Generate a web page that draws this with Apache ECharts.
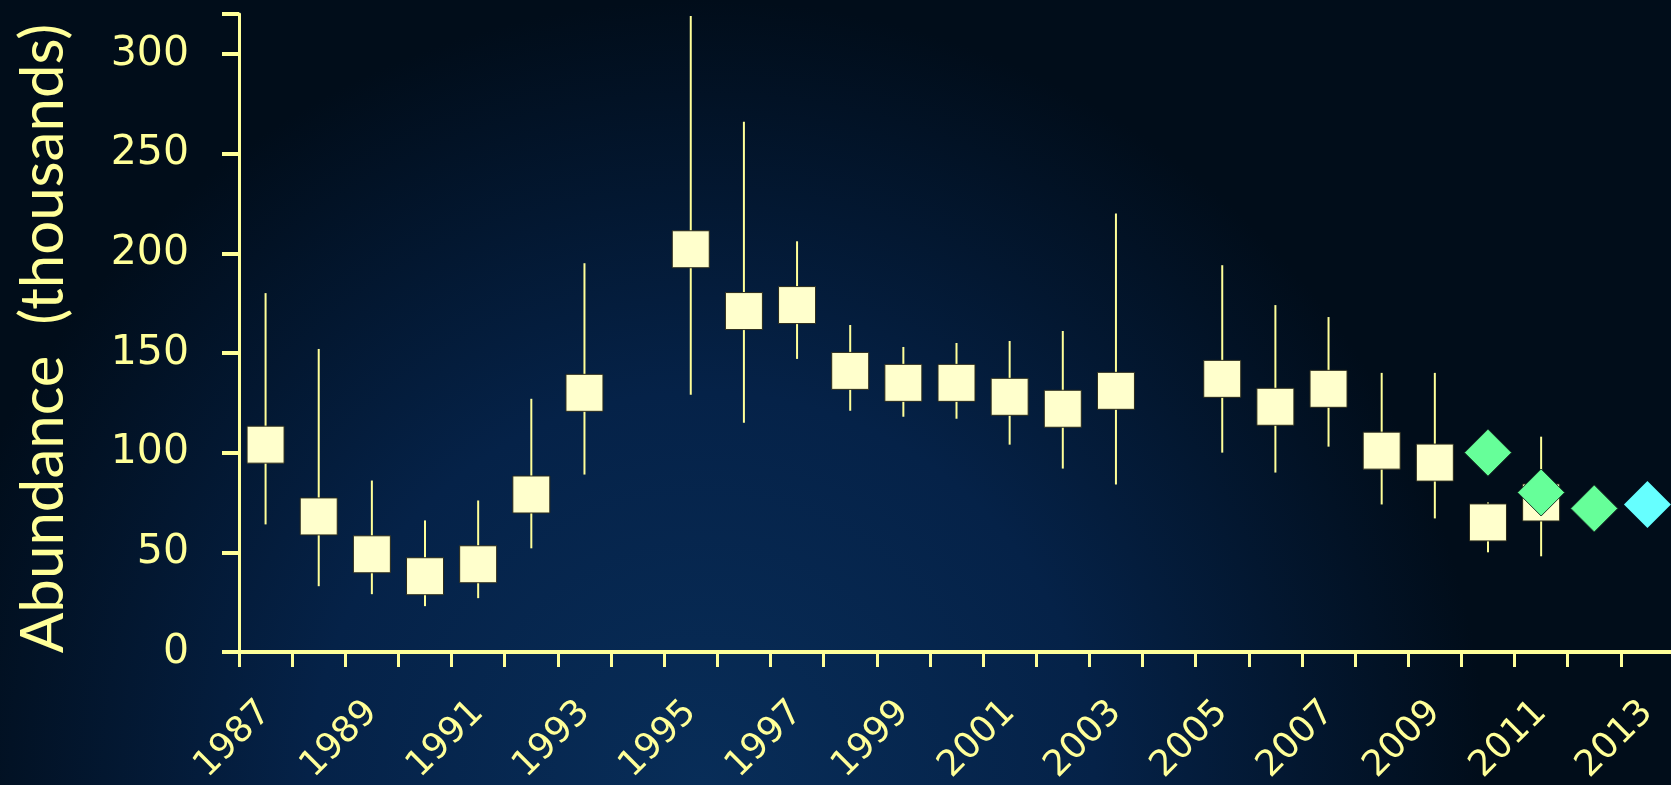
<!DOCTYPE html>
<html>
<head>
<meta charset="utf-8">
<script src="https://cdn.jsdelivr.net/npm/echarts@6/dist/echarts.min.js"></script>
<style>
  html, body { margin: 0; padding: 0; }
  #chart { width: 1671px; height: 785px; }
</style>
</head>
<body>
<div id="chart"></div>
<script>
// survey years (one category per year, some years without a survey)
const years = ['1987', '1988', '1989', '1990', '1991', '1992', '1993', '1994', '1995', '1996',
  '1997', '1998', '1999', '2000', '2001', '2002', '2003', '2004', '2005', '2006',
  '2007', '2008', '2009', '2010', '2011', '2012', '2013'];

// abundance estimate and confidence limits, thousands
const estimate = [104, 68, 49, 38, 44, 79, 130, null, 202, 171, 174, 141, 135, 135, 128, 122, 131, null,
  137, 123, 132, 101, 95, 65, 75, null, null];
const lower = [64, 33, 29, 23, 27, 52, 89, null, 129, 115, 147, 121, 118, 117, 104, 92, 84, null,
  100, 90, 103, 74, 67, 50, 48, null, null];
const upper = [180, 152, 86, 66, 76, 127, 195, null, 319, 266, 206, 164, 153, 155, 156, 161, 220, null,
  194, 174, 168, 140, 140, 75, 108, null, null];

// newer estimates (green diamonds) and latest (cyan diamond)
const newEstimate = [null, null, null, null, null, null, null, null, null, null, null, null, null, null,
  null, null, null, null, null, null, null, null, null, 100, 80, 72, null];
const latestEstimate = [null, null, null, null, null, null, null, null, null, null, null, null, null, null,
  null, null, null, null, null, null, null, null, null, null, null, null, 74];

const yTicks = [0, 50, 100, 150, 200, 250, 300];

const yellow = '#FFFF99';
const dash = v => (v == null ? '-' : v);

const errData = [];
years.forEach((y, i) => {
  if (lower[i] != null) errData.push([i, lower[i], upper[i]]);
});

const chart = echarts.init(document.getElementById('chart'));
chart.setOption({
  backgroundColor: {
    type: 'radial', x: 0.42, y: 1.0, r: 1.0,
    colorStops: [
      { offset: 0, color: '#082d58' },
      { offset: 0.5, color: '#052248' },
      { offset: 1, color: '#010d1a' }
    ]
  },
  animation: false,
  grid: { left: 239, right: -3, top: 14, bottom: 133, containLabel: false, outerBoundsMode: 'none' },
  xAxis: {
    type: 'category',
    data: years,
    boundaryGap: true,
    axisLine: { show: true, lineStyle: { color: yellow, width: 4 } },
    axisTick: { show: true, interval: 0, length: 15, lineStyle: { color: yellow, width: 3 } },
    axisLabel: {
      interval: 1, rotate: 45, margin: 55,
      color: yellow, fontFamily: 'DejaVu Sans', fontSize: 36
    },
    splitLine: { show: false }
  },
  yAxis: {
    type: 'value',
    min: 0, max: 320, interval: 50,
    name: 'Abundance  (thousands)',
    nameLocation: 'middle',
    nameRotate: 90,
    nameGap: 165,
    nameTextStyle: { color: yellow, fontFamily: 'Lato', fontSize: 60, padding: [0, 11, 0, 0] },
    axisLine: { show: true, lineStyle: { color: yellow, width: 3 } },
    axisTick: { show: true, inside: false, length: 17, lineStyle: { color: yellow, width: 4 } },
    axisLabel: {
      customValues: yTicks, margin: 50,
      color: yellow, fontFamily: 'DejaVu Sans', fontSize: 41
    },
    splitLine: { show: false }
  },
  series: [
    {
      type: 'custom',
      data: errData,
      z: 1,
      renderItem: (params, api) => {
        const lo = api.coord([api.value(0), api.value(1)]);
        const hi = api.coord([api.value(0), api.value(2)]);
        return {
          type: 'line',
          shape: { x1: lo[0], y1: lo[1], x2: hi[0], y2: hi[1] },
          style: { stroke: yellow, lineWidth: 2 }
        };
      }
    },
    {
      type: 'scatter',
      data: estimate.map(dash),
      symbol: 'rect',
      symbolSize: 37,
      z: 2,
      itemStyle: { color: '#FFFFCC', borderColor: '#2a2a1a', borderWidth: 1, opacity: 1 }
    },
    {
      type: 'scatter',
      data: newEstimate.map(dash),
      symbol: 'diamond',
      symbolSize: 47,
      z: 3,
      itemStyle: { color: '#66FF99', borderColor: '#1a3a2a', borderWidth: 1, opacity: 1 }
    },
    {
      type: 'scatter',
      data: latestEstimate.map(dash),
      symbol: 'diamond',
      symbolSize: 47,
      z: 3,
      itemStyle: { color: '#66FFFF', opacity: 1 }
    }
  ]
});
</script>
</body>
</html>
